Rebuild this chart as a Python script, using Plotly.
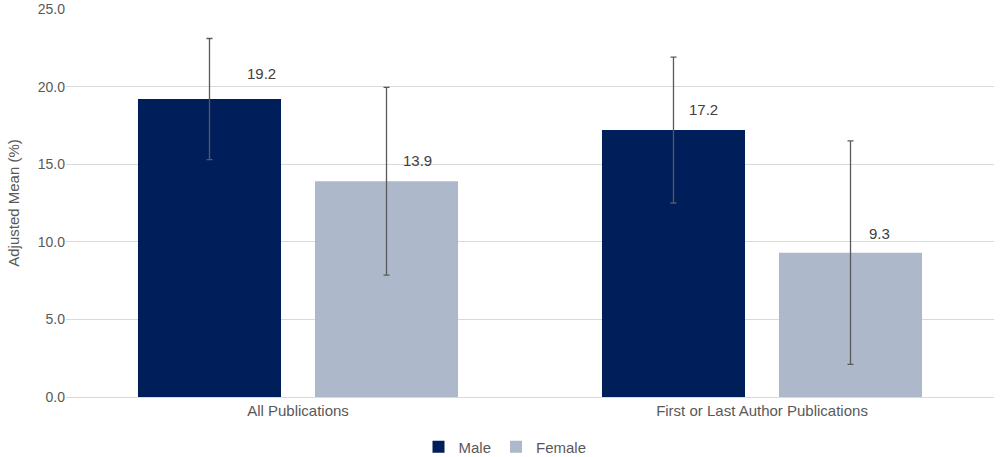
import plotly.graph_objects as go

categories = ["All Publications", "First or Last Author Publications"]
male_values = [19.2, 17.2]
female_values = [13.9, 9.3]
male_errors = [3.9, 4.7]
female_errors = [6.05, 7.2]
y_ticks = [0, 5, 10, 15, 20, 25]
y_tick_labels = ["0.0", "5.0", "10.0", "15.0", "20.0", "25.0"]

MALE_COLOR = "#001E5A"
FEMALE_COLOR = "#ADB9CA"
TEXT_COLOR = "#595959"
FONT = "Liberation Sans, Arial, sans-serif"

fig = go.Figure()
for name, vals, errs, color in [
    ("Male", male_values, male_errors, MALE_COLOR),
    ("Female", female_values, female_errors, FEMALE_COLOR),
]:
    fig.add_trace(go.Bar(
        name=name, x=categories, y=vals, marker_color=color,
        marker_line_width=0,
        error_y=dict(type="data", array=errs, visible=True,
                     color="#595959", thickness=1.3, width=3),
    ))

# data labels (offset to the right of the error bars, as in the original)
slot_px = 88.5
label_offsets = {
    "Male": [(52, 15), (30, 10)],
    "Female": [(31, 10), (29, 9)],
}
for name, vals, sign in [("Male", male_values, -1), ("Female", female_values, 1)]:
    for i, (cat, v) in enumerate(zip(categories, vals)):
        dx, dy = label_offsets[name][i]
        fig.add_annotation(
            x=cat, y=v, xref="x", yref="y", text=f"{v:.1f}",
            showarrow=False, xshift=sign * slot_px + dx, yshift=dy,
            yanchor="bottom", font=dict(size=15, color="#404040", family=FONT),
        )

fig.update_layout(
    width=1000, height=457,
    margin=dict(l=66, r=6, t=9, b=60, autoexpand=False),
    paper_bgcolor="white", plot_bgcolor="white",
    barmode="group", bargap=0.237, bargroupgap=0.192,
    font=dict(family=FONT, size=14, color=TEXT_COLOR),
    showlegend=True,
    legend=dict(orientation="h", xref="container", x=0.505, xanchor="center",
                yref="container", y=0.022, yanchor="middle",
                font=dict(size=15, color=TEXT_COLOR),
                itemwidth=30, tracegroupgap=0),
    xaxis=dict(showgrid=False, showline=True, linecolor="#D9D9D9",
               linewidth=1, ticks="", automargin=False,
               tickfont=dict(size=15, color=TEXT_COLOR)),
    yaxis=dict(range=[0, 25], tickvals=y_ticks, ticktext=y_tick_labels,
               showgrid=True, gridcolor="#D9D9D9", gridwidth=1,
               zeroline=False, showline=False, ticks="", automargin=False,
               tickfont=dict(size=14, color=TEXT_COLOR),
               title=dict(text="Adjusted Mean (%)", standoff=14,
                          font=dict(size=15, color=TEXT_COLOR))),
)

fig.write_html("out.html", config={"displayModeBar": False},
               post_script="document.body.style.margin='0';document.body.style.padding='0';")
